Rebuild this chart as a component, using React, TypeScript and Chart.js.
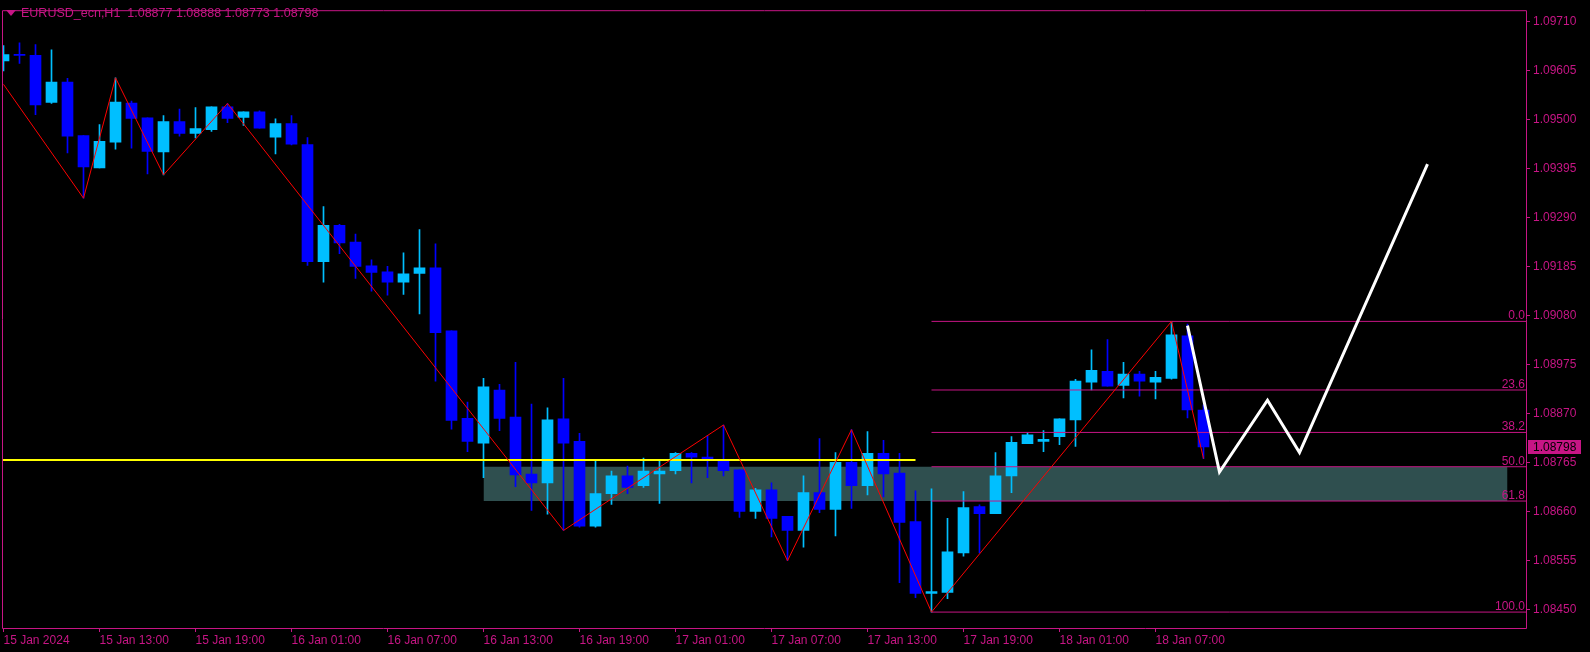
import React, { useEffect, useRef } from 'react';
import { Chart, registerables } from 'chart.js';

Chart.register(...registerables);

// ---------- data ----------
const symbolTitle = 'EURUSD_ecn,H1';

const opens = [
  1.09625, 1.09639, 1.09637, 1.09536, 1.09580, 1.09465, 1.09396, 1.09451, 1.09535, 1.09503,
  1.09430, 1.09495, 1.09470, 1.09478, 1.09527, 1.09504, 1.09516, 1.09462, 1.09491, 1.09446,
  1.09195, 1.09273, 1.09237, 1.09186, 1.09173, 1.09151, 1.09170, 1.09182, 1.09047, 1.08859,
  1.08806, 1.08920, 1.08862, 1.08740, 1.08721, 1.08858, 1.08810, 1.08628, 1.08698, 1.08736,
  1.08715, 1.08740, 1.08747, 1.08784, 1.08776, 1.08767, 1.08749, 1.08660, 1.08706, 1.08649,
  1.08619, 1.08700, 1.08664, 1.08765, 1.08715, 1.08784, 1.08742, 1.08638, 1.08484, 1.08486,
  1.08571, 1.08670, 1.08655, 1.08736, 1.08805, 1.08810, 1.08820, 1.08856, 1.08937, 1.08960,
  1.08930, 1.08954, 1.08937, 1.08945, 1.09036, 1.08877,
];

const highs = [
  1.09658, 1.09664, 1.09660, 1.09649, 1.09588, 1.09465, 1.09489, 1.09589, 1.09539, 1.09503,
  1.09508, 1.09522, 1.09525, 1.09527, 1.09534, 1.09516, 1.09518, 1.09501, 1.09508, 1.09461,
  1.09313, 1.09275, 1.09254, 1.09199, 1.09185, 1.09214, 1.09264, 1.09233, 1.09047, 1.08894,
  1.08945, 1.08932, 1.08979, 1.08890, 1.08882, 1.08945, 1.08827, 1.08767, 1.08746, 1.08757,
  1.08774, 1.08767, 1.08786, 1.08786, 1.08822, 1.08845, 1.08749, 1.08709, 1.08721, 1.08649,
  1.08736, 1.08816, 1.08786, 1.08835, 1.08831, 1.08812, 1.08784, 1.08704, 1.08708, 1.08645,
  1.08702, 1.08674, 1.08786, 1.08820, 1.08829, 1.08833, 1.08858, 1.08943, 1.09006, 1.09028,
  1.08979, 1.08960, 1.08960, 1.09067, 1.09061, 1.08888,
];

const lows = [
  1.09604, 1.09620, 1.09510, 1.09534, 1.09428, 1.09331, 1.09396, 1.09436, 1.09438, 1.09383,
  1.09381, 1.09464, 1.09460, 1.09474, 1.09493, 1.09487, 1.09481, 1.09426, 1.09445, 1.09187,
  1.09151, 1.09212, 1.09159, 1.09132, 1.09123, 1.09125, 1.09083, 1.08939, 1.08836, 1.08788,
  1.08732, 1.08833, 1.08713, 1.08662, 1.08654, 1.08619, 1.08626, 1.08626, 1.08675, 1.08698,
  1.08711, 1.08677, 1.08740, 1.08721, 1.08732, 1.08736, 1.08647, 1.08645, 1.08605, 1.08554,
  1.08583, 1.08657, 1.08607, 1.08666, 1.08695, 1.08691, 1.08507, 1.08475, 1.08444, 1.08473,
  1.08564, 1.08571, 1.08655, 1.08700, 1.08805, 1.08788, 1.08803, 1.08799, 1.08920, 1.08928,
  1.08903, 1.08907, 1.08901, 1.08943, 1.08860, 1.08773,
];

const closes = [
  1.09639, 1.09637, 1.09531, 1.09580, 1.09464, 1.09398, 1.09453, 1.09537, 1.09502, 1.09431,
  1.09495, 1.09470, 1.09480, 1.09527, 1.09502, 1.09516, 1.09481, 1.09491, 1.09447, 1.09195,
  1.09273, 1.09235, 1.09185, 1.09172, 1.09151, 1.09169, 1.09182, 1.09043, 1.08855, 1.08810,
  1.08927, 1.08859, 1.08738, 1.08721, 1.08856, 1.08806, 1.08628, 1.08698, 1.08736, 1.08711,
  1.08746, 1.08746, 1.08784, 1.08776, 1.08772, 1.08747, 1.08660, 1.08706, 1.08645, 1.08619,
  1.08700, 1.08664, 1.08765, 1.08715, 1.08784, 1.08740, 1.08636, 1.08484, 1.08488, 1.08573,
  1.08668, 1.08655, 1.08736, 1.08808, 1.08824, 1.08814, 1.08858, 1.08939, 1.08962, 1.08928,
  1.08954, 1.08939, 1.08947, 1.09038, 1.08877, 1.08798,
];

const xTickBars = [0, 6, 12, 18, 24, 30, 36, 42, 48, 54, 60, 66, 72];
const xTickLabels = [
  '15 Jan 2024', '15 Jan 13:00', '15 Jan 19:00', '16 Jan 01:00', '16 Jan 07:00',
  '16 Jan 13:00', '16 Jan 19:00', '17 Jan 01:00', '17 Jan 07:00', '17 Jan 13:00',
  '17 Jan 19:00', '18 Jan 01:00', '18 Jan 07:00',
];
const yTickValues = [
  1.09710, 1.09605, 1.09500, 1.09395, 1.09290, 1.09185, 1.09080,
  1.08975, 1.08870, 1.08765, 1.08660, 1.08555, 1.08450,
];

const zigzagBars = [0, 5, 7, 10, 14, 35, 45, 49, 53, 58, 73, 75];
const zigzagPrices = [
  1.09575, 1.09331, 1.09589, 1.09381, 1.09534, 1.08619,
  1.08845, 1.08554, 1.08835, 1.08444, 1.09067, 1.08773,
];

const projectionBars = [74, 76, 79, 81, 89];
const projectionPrices = [1.09058, 1.08744, 1.08898, 1.08786, 1.09404];

const fibLevels = [0, 23.6, 38.2, 50, 61.8, 100];
const fibHigh = 1.09067;
const fibLow = 1.08444;
const fibStartBar = 58;

const zoneBars = [30, 94];
const zoneLevels = [50, 61.8];

const supportPrice = 1.0877;
const supportBars = [0, 57];

// ---------- style ----------
const AXIS_COLOR = '#C71585';
const BULL = '#00BFFF';
const BEAR = '#0000FF';
const FONT = '"Liberation Sans", Arial, sans-serif';
const X_MIN = -0.09375;
const X_MAX = 95.21875;
const Y_MIN = 1.084099;
const Y_MAX = 1.097339;

const fibPrice = (lv: number) => fibHigh - (lv / 100) * (fibHigh - fibLow);

export default function App() {
  const ref = useRef<HTMLCanvasElement>(null);

  useEffect(() => {
    document.body.style.margin = '0';
    document.body.style.background = '#000';
    if (!ref.current) return;

    const colors = opens.map((o, i) => (closes[i] >= o ? BULL : BEAR));

    const lineBase = {
      type: 'line' as const,
      pointRadius: 0,
      pointHoverRadius: 0,
      tension: 0,
      fill: false,
    };

    const fibDatasets = fibLevels.map((lv) => ({
      ...lineBase,
      label: 'fib ' + lv,
      data: [
        { x: fibStartBar, y: fibPrice(lv) },
        { x: X_MAX, y: fibPrice(lv) },
      ],
      borderColor: AXIS_COLOR,
      borderWidth: 1,
      order: 5,
    }));

    const bgPlugin = {
      id: 'bg',
      beforeDraw(chart: any) {
        const { ctx, width, height } = chart;
        ctx.save();
        ctx.fillStyle = '#000';
        ctx.fillRect(0, 0, width, height);
        ctx.restore();
      },
    };

    const fibLabelPlugin = {
      id: 'fibLabels',
      afterDatasetsDraw(chart: any) {
        const { ctx, chartArea: a } = chart;
        const ys = chart.scales.y;
        ctx.save();
        ctx.font = `12px ${FONT}`;
        ctx.fillStyle = AXIS_COLOR;
        ctx.textAlign = 'right';
        ctx.textBaseline = 'alphabetic';
        fibLevels.forEach((lv) => {
          const py = ys.getPixelForValue(fibPrice(lv));
          ctx.fillText(lv.toFixed(1), a.right - 2, py - 2);
        });
        ctx.restore();
      },
    };

    const framePlugin = {
      id: 'frame',
      afterDraw(chart: any) {
        const { ctx, chartArea: a } = chart;
        const ys = chart.scales.y;
        ctx.save();
        ctx.strokeStyle = AXIS_COLOR;
        ctx.lineWidth = 1;
        ctx.beginPath();
        ctx.moveTo(a.left + 0.5, a.bottom + 0.5);
        ctx.lineTo(a.left + 0.5, a.top + 0.5);
        ctx.lineTo(a.right - 0.5, a.top + 0.5);
        ctx.lineTo(a.right - 0.5, a.bottom + 0.5);
        ctx.lineTo(a.left + 0.5, a.bottom + 0.5);
        ctx.stroke();
        // current price tag
        const last = closes[closes.length - 1];
        const py = ys.getPixelForValue(last);
        ctx.fillStyle = AXIS_COLOR;
        ctx.fillRect(a.right + 1, Math.round(py) - 7, 53, 14);
        ctx.fillStyle = '#000';
        ctx.font = `12px ${FONT}`;
        ctx.textAlign = 'left';
        ctx.textBaseline = 'middle';
        ctx.fillText(last.toFixed(5), a.right + 6, Math.round(py) + 0.5);
        ctx.restore();
      },
    };

    const chart = new Chart(ref.current, {
      type: 'bar',
      data: {
        datasets: [
          {
            ...lineBase,
            label: 'zone',
            data: zoneBars.map((b) => ({ x: b, y: fibPrice(zoneLevels[0]) })),
            borderWidth: 0,
            borderColor: 'rgba(0,0,0,0)',
            backgroundColor: '#2F4F4F',
            fill: { value: fibPrice(zoneLevels[1]) },
            order: 20,
          } as any,
          {
            type: 'bar',
            label: 'wicks',
            data: opens.map((_, i) => ({ x: i, y: [lows[i], highs[i]] })),
            backgroundColor: colors,
            borderWidth: 0,
            barThickness: 1,
            grouped: false,
            order: 10,
          } as any,
          {
            type: 'bar',
            label: 'bodies',
            data: opens.map((o, i) => ({ x: i, y: [o, closes[i]] })),
            backgroundColor: colors,
            borderWidth: 0,
            barThickness: 11,
            minBarLength: 1,
            grouped: false,
            order: 9,
          } as any,
          ...fibDatasets,
          {
            ...lineBase,
            label: 'support',
            data: supportBars.map((b) => ({ x: b === 0 ? X_MIN : b, y: supportPrice })),
            borderColor: '#FFFF00',
            borderWidth: 2,
            order: 4,
          },
          {
            ...lineBase,
            label: 'zigzag',
            data: zigzagBars.map((b, i) => ({ x: b, y: zigzagPrices[i] })),
            borderColor: '#FF0000',
            borderWidth: 1,
            order: 3,
          },
          {
            ...lineBase,
            label: 'projection',
            data: projectionBars.map((b, i) => ({ x: b, y: projectionPrices[i] })),
            borderColor: '#FFFFFF',
            borderWidth: 3,
            order: 2,
          },
        ] as any,
      },
      options: {
        responsive: false,
        animation: false,
        devicePixelRatio: 1,
        events: [],
        layout: { padding: { left: 2, top: 2, right: 0, bottom: 0 } },
        plugins: {
          legend: { display: false },
          tooltip: { enabled: false },
          title: { display: false },
        },
        scales: {
          x: {
            type: 'linear',
            position: 'bottom',
            min: X_MIN,
            max: X_MAX,
            offset: false,
            grid: {
              display: true,
              drawOnChartArea: false,
              drawTicks: true,
              tickLength: 4,
              color: AXIS_COLOR,
              offset: false,
            },
            border: { display: false },
            ticks: {
              color: AXIS_COLOR,
              font: { family: FONT, size: 12 },
              align: 'start',
              autoSkip: false,
              maxRotation: 0,
              minRotation: 0,
              padding: 1,
              callback: (_v: any, idx: number) => xTickLabels[idx] ?? '',
            },
            afterBuildTicks: (s: any) => {
              s.ticks = xTickBars.map((v) => ({ value: v }));
            },
            afterFit: (s: any) => {
              s.height = 24;
            },
          },
          y: {
            type: 'linear',
            position: 'right',
            min: Y_MIN,
            max: Y_MAX,
            beginAtZero: false,
            grid: {
              display: true,
              drawOnChartArea: false,
              drawTicks: true,
              tickLength: 3,
              color: AXIS_COLOR,
            },
            border: { display: false },
            ticks: {
              color: AXIS_COLOR,
              font: { family: FONT, size: 12 },
              autoSkip: false,
              padding: 3,
              callback: (v: any) => Number(v).toFixed(5),
            },
            afterBuildTicks: (s: any) => {
              s.ticks = yTickValues.map((v) => ({ value: v }));
            },
            afterFit: (s: any) => {
              s.width = 63;
            },
          },
        },
      } as any,
      plugins: [bgPlugin, fibLabelPlugin, framePlugin],
    });

    return () => chart.destroy();
  }, []);

  const last = opens.length - 1;
  const titleText = `${symbolTitle}  ${opens[last].toFixed(5)} ${highs[last].toFixed(5)} ${lows[last].toFixed(5)} ${closes[last].toFixed(5)}`;

  return (
    <div style={{ position: 'fixed', left: 0, top: 0, width: 1590, height: 652, background: '#000', overflow: 'hidden' }}>
      <canvas ref={ref} width={1590} height={652} style={{ display: 'block', width: 1590, height: 652 }} />
      <div
        style={{
          position: 'absolute', left: 6, top: 10, width: 0, height: 0,
          borderLeft: '5px solid transparent', borderRight: '5px solid transparent',
          borderTop: '6px solid ' + AXIS_COLOR,
        }}
      />
      <div
        style={{
          position: 'absolute', left: 21, top: 5, color: AXIS_COLOR,
          font: `12.5px ${FONT}`, lineHeight: '16px', whiteSpace: 'pre',
        }}
      >
        {titleText}
      </div>
    </div>
  );
}
